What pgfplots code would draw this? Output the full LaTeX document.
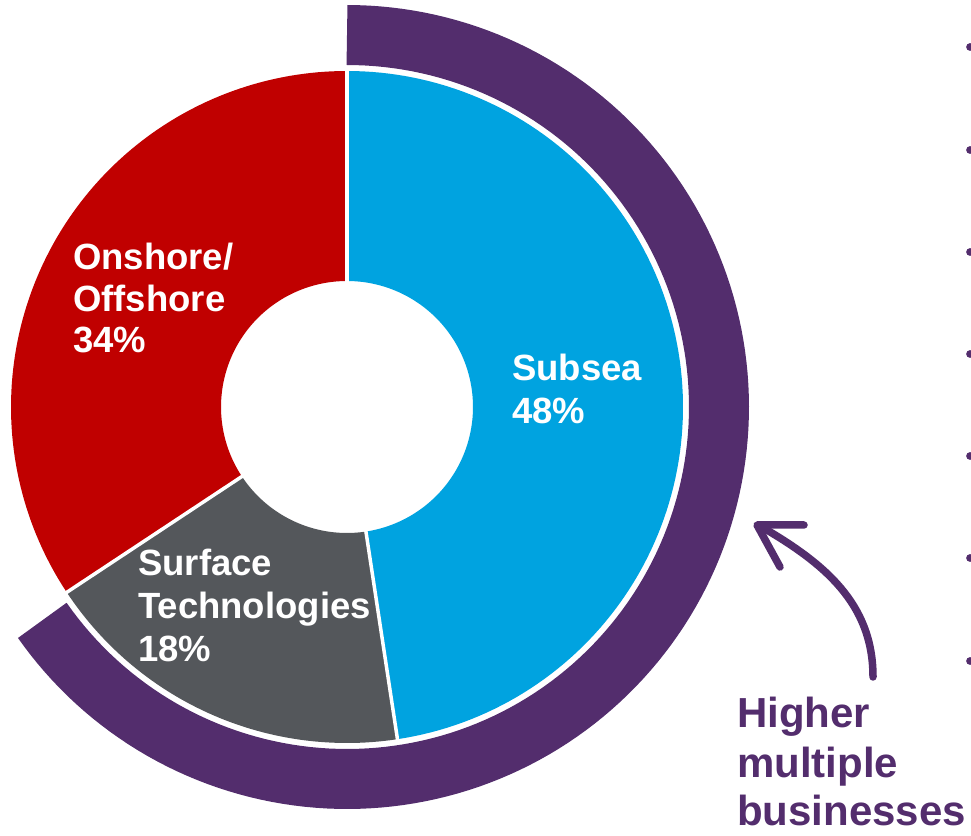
\documentclass[border=0pt]{standalone}
\usepackage{pgfplots}
\usepackage{pgfplotstable}
\pgfplotsset{compat=1.18}
\usepackage{fontspec}
\setmainfont{Liberation Sans}
\definecolor{subsea}{RGB}{0,163,224}
\definecolor{onshore}{RGB}{192,0,0}
\definecolor{surface}{RGB}{84,87,91}
\definecolor{hm}{RGB}{83,45,109}

\pgfplotstableread{
segment share
Subsea  47.6
Surface 18.1
Onshore 34.3
}\shares

\begin{document}
\begin{tikzpicture}
\pgfplotstablegetelem{0}{share}\of\shares \pgfmathsetmacro\sA{\pgfplotsretval}
\pgfplotstablegetelem{1}{share}\of\shares \pgfmathsetmacro\sB{\pgfplotsretval}
\pgfplotstablegetelem{2}{share}\of\shares \pgfmathsetmacro\sC{\pgfplotsretval}
\pgfmathsetmacro\aA{90}
\pgfmathsetmacro\aB{\aA-3.6*\sA}
\pgfmathsetmacro\aC{\aB-3.6*\sB}
\pgfmathsetmacro\aD{\aC-3.6*\sC}
% higher multiple arc: from 90 deg clockwise to -145 deg
\pgfmathsetmacro\hEnd{-145}
\def\cx{347}
\def\cy{428}
\begin{axis}[hide axis, x=1pt, y=1pt, xmin=0, xmax=971, ymin=0, ymax=835,
  clip=true, scale only axis]
% donut slices as thick arcs (inner r 126, outer r 336)
\addplot[draw=subsea, line width=210pt, domain=\aB:\aA, samples=120, line cap=butt]
  ({\cx+231*cos(x)},{\cy+231*sin(x)});
\addplot[draw=surface, line width=210pt, domain=\aC:\aB, samples=60, line cap=butt]
  ({\cx+231*cos(x)},{\cy+231*sin(x)});
\addplot[draw=onshore, line width=210pt, domain=\aD:\aC, samples=100, line cap=butt]
  ({\cx+231*cos(x)},{\cy+231*sin(x)});
% white separators
\addplot[draw=white, line width=3.5pt, domain=120:345, samples=2] ({\cx+x*cos(\aA)},{\cy+x*sin(\aA)});
\addplot[draw=white, line width=3.5pt, domain=120:345, samples=2] ({\cx+x*cos(\aB)},{\cy+x*sin(\aB)});
\addplot[draw=white, line width=3.5pt, domain=120:345, samples=2] ({\cx+x*cos(\aC)},{\cy+x*sin(\aC)});
% outer purple arc (r 342 to 402)
\addplot[draw=hm, line width=60pt, domain=\hEnd:90, samples=150, line cap=butt]
  ({\cx+372*cos(x)},{\cy+372*sin(x)});
% bullets (cut at right edge)
\addplot[only marks, mark=*, mark size=3.6pt, hm, mark options={draw=hm, fill=hm}]
  coordinates {(970,788) (970,685) (970,583) (970,481) (970,379) (970,277) (970,174)};
% labels
\begin{scope}[every node/.style={anchor=base west, inner sep=0pt, font=\fontsize{36.5}{42}\selectfont\bfseries, text=white}]
\node at (axis cs:73,565) {Onshore/};
\node at (axis cs:73,523) {Offshore};
\node at (axis cs:73,482) {34\%};
\node at (axis cs:512,454) {Subsea};
\node at (axis cs:512,411) {48\%};
\node at (axis cs:138,259) {Surface};
\node at (axis cs:138,216) {Technologies};
\node at (axis cs:138,173) {18\%};
\end{scope}
\begin{scope}[every node/.style={anchor=base west, inner sep=0pt, font=\fontsize{42}{48}\selectfont\bfseries, text=hm}]
\node at (axis cs:737,107) {Higher};
\node at (axis cs:737,58) {multiple};
\node at (axis cs:737,10) {businesses};
\end{scope}
% arrow
\draw[hm, line width=7.5pt, line cap=round] (axis cs:873,158) to[out=90, in=-30] (axis cs:760,309);
\draw[hm, line width=7.5pt, line cap=round, line join=round] (axis cs:804,310) -- (axis cs:757,310) -- (axis cs:780,268);
\end{axis}
\pgfresetboundingbox
\path[use as bounding box] (current axis.south west) rectangle (current axis.north east);
\end{tikzpicture}
\end{document}
